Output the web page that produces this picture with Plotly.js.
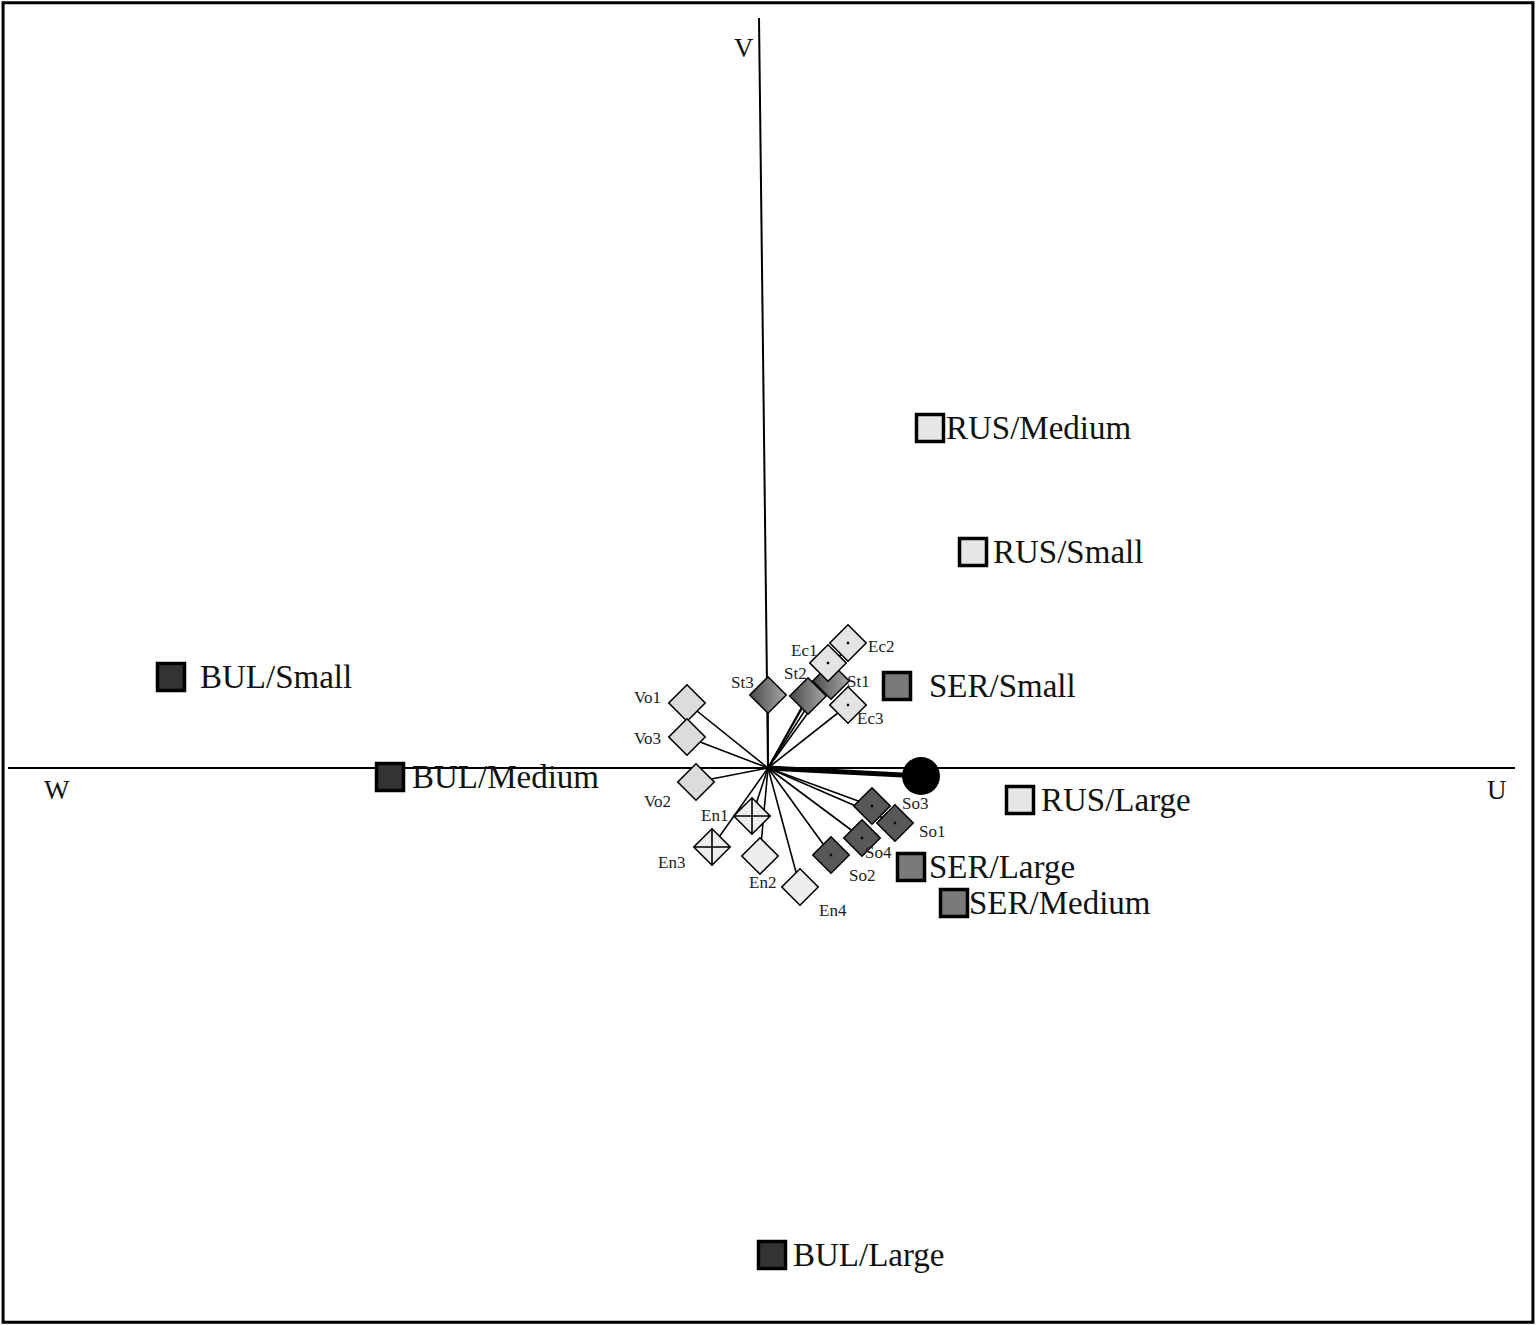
<!DOCTYPE html>
<html>
<head>
<meta charset="utf-8">
<script src="https://cdn.plot.ly/plotly-3.0.1.min.js"></script>
<style>html,body{margin:0;padding:0;background:#fff;}#chart{width:1536px;height:1325px;}</style>
</head>
<body>
<div id="chart"></div>
<script>
// Group scores (country / size)
const groupNames = ["BUL/Small","BUL/Medium","BUL/Large","RUS/Medium","RUS/Small","RUS/Large","SER/Small","SER/Large","SER/Medium"];
const groupX = [-5.97,-3.78,0.04,1.62,2.05,2.52,1.29,1.43,1.86];
const groupY = [0.91,-0.09,-4.87,3.40,2.16,-0.32,0.82,-0.99,-1.35];
const groupCountry = ["BUL","BUL","BUL","RUS","RUS","RUS","SER","SER","SER"];

// Variable loadings
const varNames = ["Vo1","Vo3","Vo2","St3","St2","St1","Ec1","Ec2","Ec3","En1","En3","En2","En4","So3","So1","So4","So2"];
const varX = [-0.81,-0.81,-0.72,0.00,0.40,0.63,0.60,0.80,0.80,-0.16,-0.56,-0.08,0.32,1.04,1.27,0.94,0.63];
const varY = [0.65,0.31,-0.14,0.73,0.72,0.87,1.05,1.25,0.63,-0.48,-0.79,-0.88,-1.19,-0.38,-0.55,-0.70,-0.87];
const varGroup = ["Vo","Vo","Vo","St","St","St","Ec","Ec","Ec","En","En","En","En","So","So","So","So"];

// Supplementary point (big circle)
const suppX = [1.53];
const suppY = [-0.08];

// Axis labels
const axisNames = ["V","W","U"];

// ---- styles ----
const serif = "Liberation Serif, Times New Roman, serif";
const countryFill = {BUL:"#333333", RUS:"#e6e6e6", SER:"#7a7a7a"};
const varStyle = {
  Vo:{color:"#dcdcdc", grad:"none"},
  St:{color:"#4a4a4a", grad:"horizontal", gc:"#a8a8a8"},
  Ec:{color:"#e4e4e4", grad:"none"},
  En:{color:"#eeeeee", grad:"none"},
  So:{color:"#585858", grad:"none"}
};
const varSymbols = ["diamond","diamond","diamond","diamond","diamond","diamond","diamond-dot","diamond-dot","diamond-dot","diamond-cross","diamond-cross","diamond","diamond","diamond-dot","diamond-dot","diamond-dot","diamond-dot"];
// label offsets in screen pixels [dx, dy(down)]
const varLabelShift = [[-40,-6],[-40,1],[-39,19],[-26,-13],[-13,-23],[27,0],[-24,-13],[33,3],[22,13],[-38,-1],[-41,15],[2,26],[33,23],[43,-3],[37,8],[16,14],[31,20]];
const groupLabelShift = [28,21,20,15,19,20,31,17,14];

// rays from origin
const rayX = [], rayY = [];
varX.forEach((x,i)=>{ rayX.push(0,x,null); rayY.push(0,varY[i],null); });

const traces = [];
traces.push({x:rayX, y:rayY, mode:"lines", line:{color:"#000", width:1.6}, hoverinfo:"skip", showlegend:false});
traces.push({x:[0,suppX[0]], y:[0,suppY[0]], mode:"lines", line:{color:"#000", width:5}, hoverinfo:"skip", showlegend:false});
traces.push({x:suppX, y:suppY, mode:"markers", marker:{symbol:"circle", size:38, color:"#000"}, showlegend:false});

traces.push({
  x:varX, y:varY, mode:"markers",
  marker:{
    symbol:varSymbols,
    size:28,
    color:varGroup.map(g=>varStyle[g].color),
    gradient:{type:varGroup.map(g=>varStyle[g].grad), color:varGroup.map(g=>varStyle[g].gc||"#fff")},
    line:{color:"#000", width:1.6}
  },
  showlegend:false, cliponaxis:false
});

traces.push({
  x:groupX, y:groupY, mode:"markers",
  marker:{symbol:"square", size:27, color:groupCountry.map(c=>countryFill[c]), line:{color:"#000", width:3.5}},
  showlegend:false, cliponaxis:false
});

const annotations = [
  {x:-0.24, y:7.20, text:axisNames[0], showarrow:false, font:{family:serif, size:27, color:"#111"}},
  {x:-7.11, y:-0.22, text:axisNames[1], showarrow:false, font:{family:serif, size:27, color:"#111"}},
  {x:7.29, y:-0.22, text:axisNames[2], showarrow:false, font:{family:serif, size:27, color:"#111"}}
];
varNames.forEach((n,i)=>{
  annotations.push({x:varX[i], y:varY[i], text:n, showarrow:false, xanchor:"center", yanchor:"middle",
    xshift:varLabelShift[i][0], yshift:-varLabelShift[i][1], font:{family:serif, size:17, color:"#222"}});
});
groupNames.forEach((n,i)=>{
  annotations.push({x:groupX[i], y:groupY[i], text:n, showarrow:false, xanchor:"left", yanchor:"middle",
    xshift:groupLabelShift[i], yshift:0, borderpad:0, font:{family:serif, size:33, color:"#111"}});
});

const layout = {
  width:1536, height:1325,
  margin:{l:0,r:0,t:0,b:0},
  paper_bgcolor:"#fff", plot_bgcolor:"#fff",
  xaxis:{range:[-7.68,7.68], visible:false, fixedrange:true},
  yaxis:{range:[-5.57,7.68], visible:false, fixedrange:true},
  shapes:[
    {type:"rect", xref:"paper", yref:"paper", x0:0.002, y0:0.002, x1:0.998, y1:0.998, line:{color:"#000", width:3}},
    {type:"line", x0:-7.60, y0:0, x1:7.47, y1:0, line:{color:"#000", width:2.2}, layer:"below"},
    {type:"line", x0:0, y0:0, x1:-0.09, y1:7.50, line:{color:"#000", width:2}, layer:"below"}
  ],
  annotations:annotations
};

Plotly.newPlot("chart", traces, layout, {displayModeBar:false, staticPlot:true});
</script>
</body>
</html>
